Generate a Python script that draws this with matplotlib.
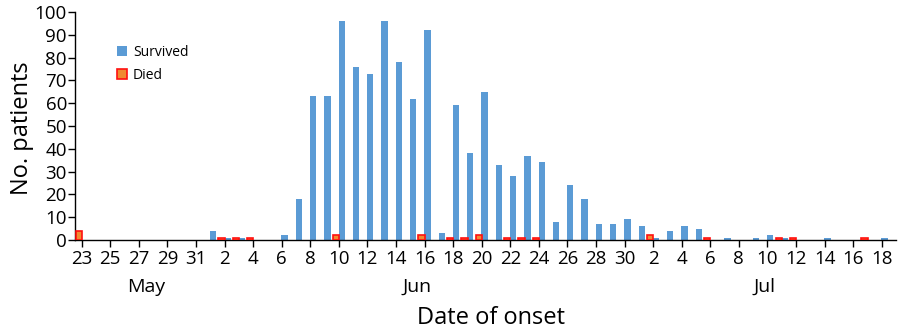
import matplotlib
matplotlib.use("Agg")
import matplotlib.pyplot as plt
import matplotlib.transforms as mtransforms
import numpy as np

plt.rcParams['font.family'] = ['Open Sans', 'DejaVu Sans']

# Daily counts, 23 May to 18 Jul
day_labels = (list(range(23, 32)) + list(range(1, 31)) + list(range(1, 19)))
survived = [0, 0, 0, 0, 0, 0, 0, 0, 0,
            4, 1, 1, 0, 0, 2, 18, 63, 63, 96, 76, 73, 96, 78, 62, 92, 3, 59, 38, 65,
            33, 28, 37, 34, 8, 24, 18, 7, 7, 9,
            6, 1, 4, 6, 5, 0, 1, 0, 1, 2, 1, 0, 0, 1, 0, 0, 0, 1]
died = [4, 0, 0, 0, 0, 0, 0, 0, 0,
        0, 1, 1, 1, 0, 0, 0, 0, 0, 2, 0, 0, 0, 0, 0, 2, 0, 1, 1, 2,
        0, 1, 1, 1, 0, 0, 0, 0, 0, 0,
        0, 2, 0, 0, 0, 1, 0, 0, 0, 0, 1, 1, 0, 0, 0, 0, 1, 0]
months = ['May', 'Jun', 'Jul']
month_pos = [4.5, 23.5, 47.8]

x = np.arange(len(day_labels))
surv = np.array(survived)
dead = np.array(died)

fig = plt.figure(figsize=(9, 3.34), dpi=100)
ax = fig.add_axes([75.3 / 900, 1 - 240 / 334, (896 - 75.3) / 900, 228 / 334])

# skip empty days so no outline shows on the axis
s_mask = surv > 0
d_mask = dead > 0
ax.bar(x[s_mask] + 0.2, surv[s_mask], width=0.44, color='#5B9BD5', label='Survived', zorder=2)
ax.bar(x[d_mask] - 0.21, dead[d_mask], width=0.44, color='#F08A30', edgecolor='#FF1010',
       linewidth=1.2, label='Died', zorder=3)

ax.set_xlim(-0.45, 57.0)
ax.set_ylim(0, 100)
ax.set_yticks(range(0, 101, 10))
ax.set_xticks(x[::2])
ax.set_xticklabels([str(d) for d in day_labels[::2]])
ax.tick_params(axis='both', labelsize=13.5, length=5, width=1, direction='out', pad=1)
ax.tick_params(axis='x', pad=2)

for s in ['top', 'right']:
    ax.spines[s].set_visible(False)
ax.spines['left'].set_linewidth(1)
ax.spines['bottom'].set_linewidth(1)

trans = mtransforms.blended_transform_factory(ax.transData, ax.transAxes)
for m, p in zip(months, month_pos):
    ax.text(p, -0.206, m, transform=trans, ha='center', va='center', fontsize=14)

fig.text(491 / 900, 1 - 318 / 334, 'Date of onset', ha='center', va='center', fontsize=17)
fig.text(22 / 900, 1 - 128 / 334, 'No. patients', ha='center', va='center',
         rotation=90, fontsize=17)

ax.legend(loc='upper left', bbox_to_anchor=(117 / 900, 1 - 45 / 334),
          bbox_transform=fig.transFigure, frameon=False, fontsize=10,
          handlelength=0.75, handleheight=0.75, handletextpad=0.4,
          labelspacing=0.55, borderpad=0, borderaxespad=0)

plt.savefig('out.png', dpi=100)
